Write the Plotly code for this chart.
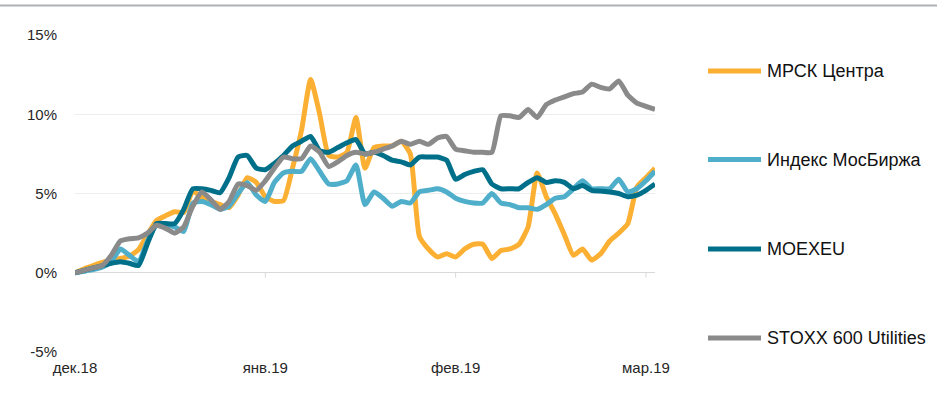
import plotly.graph_objects as go

# ---------------- data ----------------
tick_labels = ["дек.18", "янв.19", "фев.19", "мар.19"]
tick_index = [0, 21, 42, 63]          # trading-day index of month starts
y_tick_values = [-5, 0, 5, 10, 15]
y_tick_labels = ["-5%", "0%", "5%", "10%", "15%"]

series_names = ["МРСК Центра", "Индекс МосБиржа", "MOEXEU", "STOXX 600 Utilities"]
series_colors = ["#FBB034", "#4FAECA", "#00708A", "#8A8A8A"]

mrsk = [0, 0.25, 0.45, 0.65, 0.8, 0.9, 1.05, 1.45, 2.4, 3.3,
        3.6, 3.85, 3.8, 5.15, 4.75, 4.5, 4.3, 4.1, 4.9, 6.0,
        5.7, 4.8, 4.5, 4.55, 6.6, 9.0, 12.2, 10.0, 7.4, 7.3,
        7.6, 9.8, 6.6, 7.9, 8.0, 8.0, 8.3, 7.5, 2.3, 1.5,
        1.0, 1.2, 1.0, 1.5, 1.8, 1.8, 0.9, 1.4, 1.5, 1.8,
        2.9, 6.3, 4.8, 3.7, 2.4, 1.1, 1.5, 0.8, 1.2, 2.0,
        2.5, 3.1, 5.4, 6.0, 6.6]

moex_index = [0, 0.1, 0.2, 0.35, 0.7, 1.5, 1.1, 0.7, 2.0, 3.0,
              3.0, 2.9, 2.6, 4.4, 4.5, 4.3, 4.0, 4.2, 5.0, 5.7,
              4.9, 4.5, 5.7, 6.3, 6.4, 6.4, 7.2, 6.4, 5.6, 5.6,
              5.8, 6.8, 4.3, 5.1, 4.7, 4.2, 4.5, 4.4, 5.1, 5.2,
              5.3, 5.1, 4.7, 4.5, 4.4, 4.4, 5.0, 4.4, 4.3, 4.1,
              4.1, 4.0, 4.3, 4.7, 4.8, 5.3, 5.8, 5.3, 5.3, 5.3,
              5.9, 5.1, 5.3, 5.8, 6.4]

moexeu = [0, 0.15, 0.3, 0.45, 0.6, 0.7, 0.6, 0.45, 1.85, 3.1,
          3.1, 3.1, 4.0, 5.3, 5.3, 5.2, 5.05, 6.0, 7.3, 7.4,
          6.6, 6.5, 6.9, 7.4, 8.0, 8.3, 8.6, 7.7, 7.6, 7.9,
          8.2, 8.4, 7.5, 7.6, 7.4, 7.1, 7.0, 6.8, 7.3, 7.3,
          7.3, 7.1, 5.9, 6.2, 6.4, 6.5, 5.6, 5.3, 5.3, 5.3,
          5.7, 6.0, 5.7, 5.8, 5.7, 5.3, 5.5, 5.2, 5.15, 5.1,
          5.0, 4.8, 4.9, 5.2, 5.6]

stoxx = [0, 0.15, 0.3, 0.45, 1.1, 2.0, 2.15, 2.2, 2.5, 3.0,
         2.8, 2.5, 2.9, 4.2, 5.1, 4.6, 4.0, 4.5, 5.6, 5.5,
         5.2, 5.8, 6.6, 7.3, 7.2, 7.2, 8.0, 7.6, 6.7, 7.0,
         7.4, 7.6, 7.5, 7.6, 7.8, 8.0, 8.3, 8.1, 8.3, 8.1,
         8.5, 8.6, 7.8, 7.7, 7.6, 7.6, 7.6, 9.9, 9.9, 9.8,
         10.3, 9.8, 10.6, 10.9, 11.1, 11.3, 11.4, 11.9, 11.7, 11.6,
         12.1, 11.2, 10.7, 10.5, 10.3]

all_series = [mrsk, moex_index, moexeu, stoxx]

# ---------------- layout constants (page pixels) ----------------
W, H = 937, 405
PLOT_L, PLOT_R, PLOT_T, PLOT_B = 75, 655, 35, 352
ML, MT, MR, MB = PLOT_L, PLOT_T, W - PLOT_R, H - PLOT_B
PW, PH = PLOT_R - PLOT_L, PLOT_B - PLOT_T
FONT = "Liberation Sans, Arial, sans-serif"


def px_x(px):
    return (px - PLOT_L) / PW


def px_y(py):
    return (PLOT_B - py) / PH


fig = go.Figure()
for name, vals, color in zip(series_names, all_series, series_colors):
    fig.add_trace(go.Scatter(
        x=list(range(len(vals))), y=vals, name=name, mode="lines",
        line=dict(color=color, width=5, shape="spline", smoothing=0.5),
        showlegend=False, hoverinfo="skip",
    ))

shapes = []
# top separator line
shapes.append(dict(type="line", xref="paper", yref="paper",
                   x0=px_x(0), x1=px_x(W), y0=px_y(5.5), y1=px_y(5.5),
                   line=dict(color="#ADB1B4", width=2)))
# month tick marks on the zero line
for t in tick_index[1:]:
    shapes.append(dict(type="line", xref="x", yref="y", ysizemode="pixel",
                       yanchor=0, x0=t, x1=t, y0=0, y1=-5,
                       line=dict(color="#D9D9D9", width=1)))

# manual legend
legend_y = [71, 159.5, 249, 338]
annotations = []
for name, color, ly in zip(series_names, series_colors, legend_y):
    shapes.append(dict(type="line", xref="paper", yref="paper",
                       x0=px_x(708), x1=px_x(761), y0=px_y(ly), y1=px_y(ly),
                       line=dict(color=color, width=5)))
    annotations.append(dict(xref="paper", yref="paper", x=px_x(765), y=px_y(ly),
                            xanchor="left", yanchor="middle", showarrow=False,
                            text=name, font=dict(family=FONT, size=18, color="#111111")))

fig.update_layout(
    width=W, height=H,
    margin=dict(l=ML, r=MR, t=MT, b=MB, pad=0),
    paper_bgcolor="white", plot_bgcolor="white",
    font=dict(family=FONT, size=15, color="#262626"),
    shapes=shapes, annotations=annotations,
    showlegend=False,
    xaxis=dict(range=[0, len(mrsk) - 1], tickvals=tick_index, ticktext=tick_labels,
               showgrid=False, zeroline=False, showline=False,
               ticks="outside", ticklen=2, tickcolor="rgba(0,0,0,0)",
               tickfont=dict(family=FONT, size=15, color="#262626")),
    yaxis=dict(range=[-5, 15], tickvals=y_tick_values, ticktext=y_tick_labels,
               showgrid=True, gridcolor="#EDEDED", gridwidth=1,
               zeroline=True, zerolinecolor="#D9D9D9", zerolinewidth=1,
               showline=False, ticks="outside", ticklen=14,
               tickcolor="rgba(0,0,0,0)",
               tickfont=dict(family=FONT, size=15, color="#262626")),
)

fig.write_html("out.html", config={"displayModeBar": False},
               post_script="document.body.style.margin='0';")
